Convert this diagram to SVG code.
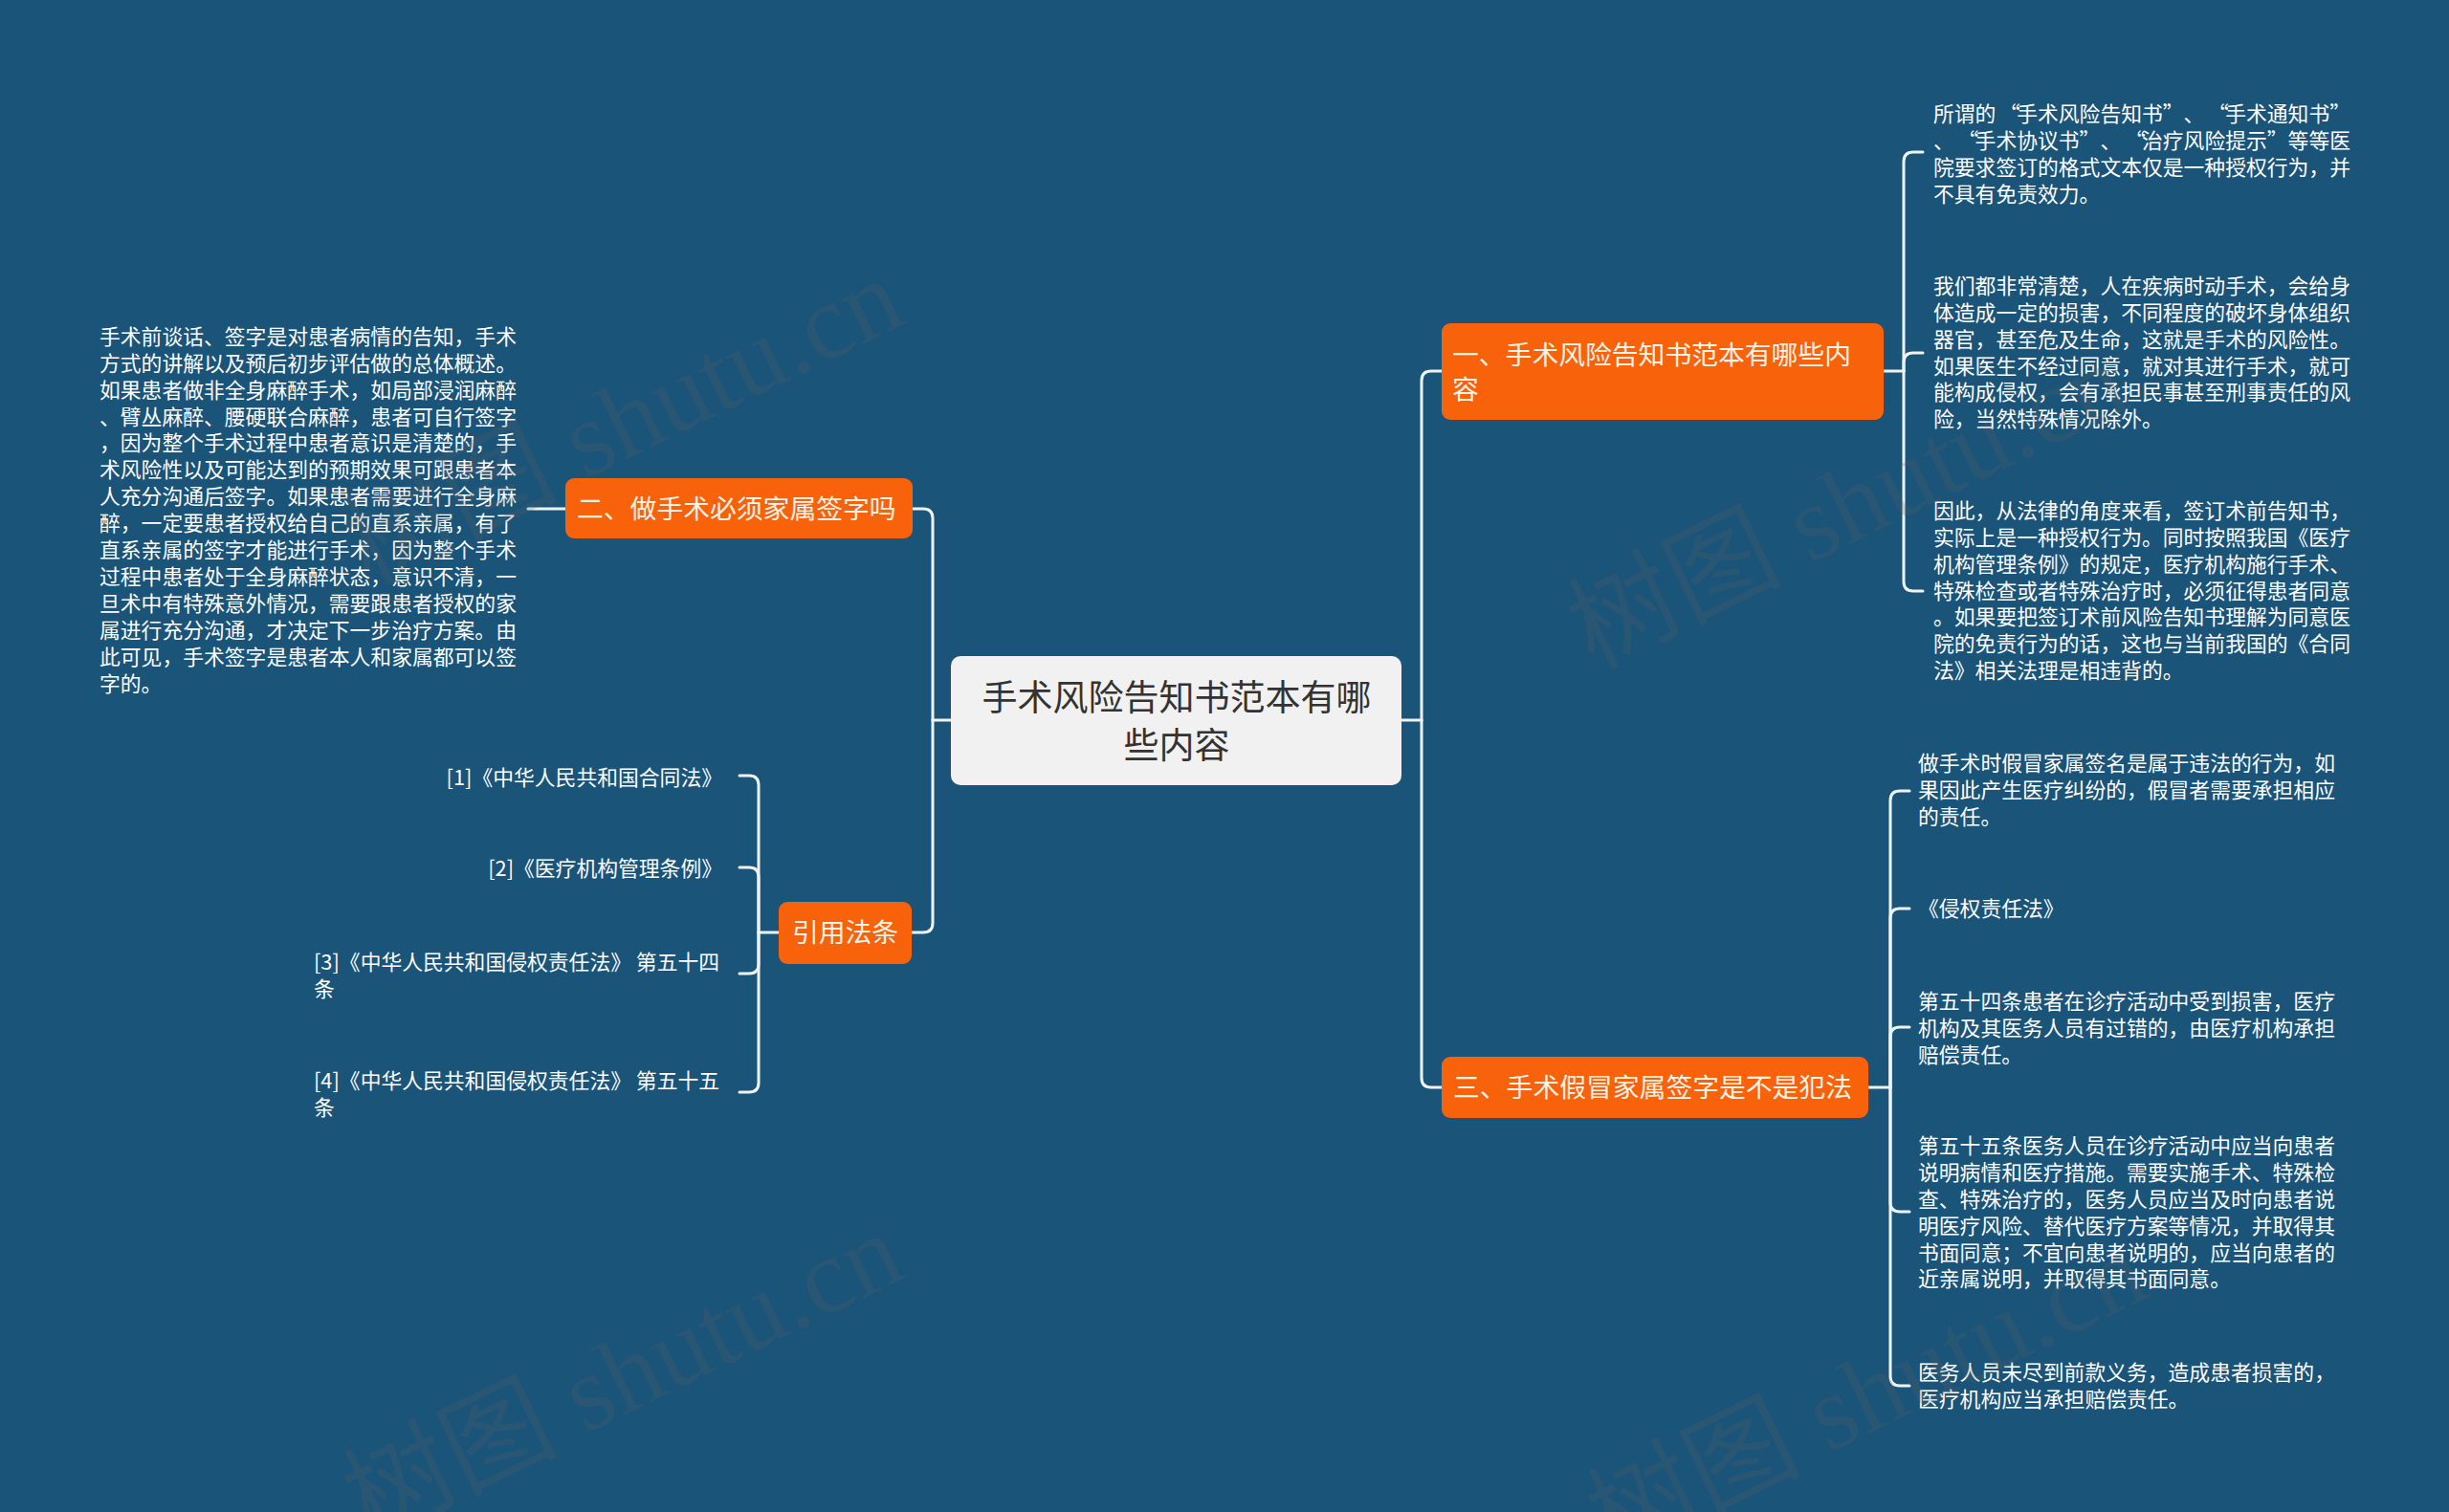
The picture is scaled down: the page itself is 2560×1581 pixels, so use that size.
<svg xmlns="http://www.w3.org/2000/svg" width="2560" height="1581" viewBox="0 0 2560 1581">
<style>
.bg{fill:#1a5479}
.conn{fill:none;stroke:#eef3f6;stroke-width:3;stroke-linecap:round;stroke-linejoin:round}
.root{fill:#f1f1f1}
.roott{font-family:"Noto Sans CJK SC","Noto Sans",sans-serif;font-size:37px;fill:#333333}
.br{fill:#f7620a}
.brt{font-family:"Noto Sans CJK SC","Noto Sans",sans-serif;font-size:27.8px;fill:#fdf3e8}
.leaf{font-family:"Noto Sans CJK SC","Noto Sans",sans-serif;font-size:21.8px;fill:#ffffff}
.wm{font-family:"Liberation Serif","Noto Sans CJK SC",serif;font-size:112px;fill:#5e5e5e;fill-opacity:0.22}
</style>
<rect class="bg" x="0" y="0" width="2560" height="1581"/>

<g id="connectors">
  <path class="conn" d="M994,753 H975"/>
  <path class="conn" d="M975,753 V542 Q975,532 965,532 H954"/>
  <path class="conn" d="M975,753 V965 Q975,975 965,975 H953"/>
  <path class="conn" d="M1465,753 H1486"/>
  <path class="conn" d="M1486,753 V398 Q1486,388 1496,388 H1507"/>
  <path class="conn" d="M1486,753 V1127 Q1486,1137 1496,1137 H1507"/>
  <path class="conn" d="M591,532 H552"/>
  <path class="conn" d="M1969,388 H1990"/>
  <path class="conn" d="M1990,388 V169 Q1990,159 2000,159 H2010"/>
  <path class="conn" d="M1990,388 V379 Q1990,369 2000,369 H2010"/>
  <path class="conn" d="M1990,388 V608 Q1990,618 2000,618 H2010"/>
  <path class="conn" d="M1953,1137 H1976"/>
  <path class="conn" d="M1976,1137 V837 Q1976,827 1986,827 H1996"/>
  <path class="conn" d="M1976,1137 V960 Q1976,950 1986,950 H1996"/>
  <path class="conn" d="M1976,1137 V1084 Q1976,1074 1986,1074 H1996"/>
  <path class="conn" d="M1976,1137 V1257 Q1976,1267 1986,1267 H1996"/>
  <path class="conn" d="M1976,1137 V1439 Q1976,1449 1986,1449 H1996"/>
  <path class="conn" d="M814,975 H793"/>
  <path class="conn" d="M793,975 V821 Q793,811 783,811 H773"/>
  <path class="conn" d="M793,975 V917 Q793,907 783,907 H773"/>
  <path class="conn" d="M793,975 V1008 Q793,1018 783,1018 H773"/>
  <path class="conn" d="M793,975 V1132 Q793,1142 783,1142 H773"/>
</g>

<g id="root">
  <rect class="root" x="994" y="686" width="471" height="135" rx="10"/>
  <text class="roott" text-anchor="middle"><tspan x="1230" y="743">手术风险告知书范本有哪</tspan><tspan x="1230" y="793">些内容</tspan></text>
</g>

<g id="b1">
  <rect class="br" x="1507" y="338" width="462" height="101" rx="9"/>
  <text class="brt"><tspan x="1518" y="381">一、手术风险告知书范本有哪些内</tspan><tspan x="1518" y="417">容</tspan></text>
</g>
<g id="b2">
  <rect class="br" x="591" y="500" width="363" height="63" rx="9"/>
  <text class="brt" x="603" y="542">二、做手术必须家属签字吗</text>
</g>
<g id="b3">
  <rect class="br" x="1507" y="1105" width="446" height="64" rx="9"/>
  <text class="brt" x="1519" y="1147">三、手术假冒家属签字是不是犯法</text>
</g>
<g id="b4">
  <rect class="br" x="814" y="943" width="139" height="65" rx="9"/>
  <text class="brt" x="883.5" y="985" text-anchor="middle">引用法条</text>
</g>

<g id="leaf-b2">
  <text class="leaf">
    <tspan x="104" y="360">手术前谈话、签字是对患者病情的告知，手术</tspan>
    <tspan x="104" y="388">方式的讲解以及预后初步评估做的总体概述。</tspan>
    <tspan x="104" y="416">如果患者做非全身麻醉手术，如局部浸润麻醉</tspan>
    <tspan x="104" y="444">、臂丛麻醉、腰硬联合麻醉，患者可自行签字</tspan>
    <tspan x="104" y="471">，因为整个手术过程中患者意识是清楚的，手</tspan>
    <tspan x="104" y="499">术风险性以及可能达到的预期效果可跟患者本</tspan>
    <tspan x="104" y="527">人充分沟通后签字。如果患者需要进行全身麻</tspan>
    <tspan x="104" y="555">醉，一定要患者授权给自己的直系亲属，有了</tspan>
    <tspan x="104" y="583">直系亲属的签字才能进行手术，因为整个手术</tspan>
    <tspan x="104" y="611">过程中患者处于全身麻醉状态，意识不清，一</tspan>
    <tspan x="104" y="639">旦术中有特殊意外情况，需要跟患者授权的家</tspan>
    <tspan x="104" y="667">属进行充分沟通，才决定下一步治疗方案。由</tspan>
    <tspan x="104" y="695">此可见，手术签字是患者本人和家属都可以签</tspan>
    <tspan x="104" y="723">字的。</tspan>
  </text>
</g>

<g id="leaf-b1-1">
  <text class="leaf">
    <tspan x="2021" y="127">所谓的</tspan><tspan x="2090" y="127">“</tspan><tspan x="2108.2" y="127">手术风险告知书</tspan><tspan x="2260.8" y="127">”</tspan><tspan x="2282.6" y="127">、</tspan><tspan x="2308" y="127">“</tspan><tspan x="2326.2" y="127">手术通知书</tspan><tspan x="2435.2" y="127">”</tspan>
    <tspan x="2021" y="155">、</tspan><tspan x="2046.5" y="155">“</tspan><tspan x="2064.6" y="155">手术协议书</tspan><tspan x="2173.6" y="155">”</tspan><tspan x="2195.4" y="155">、</tspan><tspan x="2221" y="155">“</tspan><tspan x="2239" y="155">治疗风险提示</tspan><tspan x="2369.8" y="155">”</tspan><tspan x="2391.6" y="155">等等医</tspan>
    <tspan x="2021" y="183">院要求签订的格式文本仅是一种授权行为，并</tspan>
    <tspan x="2021" y="211">不具有免责效力。</tspan>
  </text>
</g>
<g id="leaf-b1-2">
  <text class="leaf">
    <tspan x="2021" y="307">我们都非常清楚，人在疾病时动手术，会给身</tspan>
    <tspan x="2021" y="335">体造成一定的损害，不同程度的破坏身体组织</tspan>
    <tspan x="2021" y="363">器官，甚至危及生命，这就是手术的风险性。</tspan>
    <tspan x="2021" y="391">如果医生不经过同意，就对其进行手术，就可</tspan>
    <tspan x="2021" y="418">能构成侵权，会有承担民事甚至刑事责任的风</tspan>
    <tspan x="2021" y="446">险，当然特殊情况除外。</tspan>
  </text>
</g>
<g id="leaf-b1-3">
  <text class="leaf">
    <tspan x="2021" y="542">因此，从法律的角度来看，签订术前告知书，</tspan>
    <tspan x="2021" y="570">实际上是一种授权行为。同时按照我国《医疗</tspan>
    <tspan x="2021" y="598">机构管理条例》的规定，医疗机构施行手术、</tspan>
    <tspan x="2021" y="626">特殊检查或者特殊治疗时，必须征得患者同意</tspan>
    <tspan x="2021" y="653">。如果要把签订术前风险告知书理解为同意医</tspan>
    <tspan x="2021" y="681">院的免责行为的话，这也与当前我国的《合同</tspan>
    <tspan x="2021" y="709">法》相关法理是相违背的。</tspan>
  </text>
</g>

<g id="leaf-b3-1">
  <text class="leaf">
    <tspan x="2005" y="806">做手术时假冒家属签名是属于违法的行为，如</tspan>
    <tspan x="2005" y="834">果因此产生医疗纠纷的，假冒者需要承担相应</tspan>
    <tspan x="2005" y="862">的责任。</tspan>
  </text>
</g>
<g id="leaf-b3-2">
  <text class="leaf" x="2005" y="958">《侵权责任法》</text>
</g>
<g id="leaf-b3-3">
  <text class="leaf">
    <tspan x="2005" y="1055">第五十四条患者在诊疗活动中受到损害，医疗</tspan>
    <tspan x="2005" y="1083">机构及其医务人员有过错的，由医疗机构承担</tspan>
    <tspan x="2005" y="1111">赔偿责任。</tspan>
  </text>
</g>
<g id="leaf-b3-4">
  <text class="leaf">
    <tspan x="2005" y="1206">第五十五条医务人员在诊疗活动中应当向患者</tspan>
    <tspan x="2005" y="1234">说明病情和医疗措施。需要实施手术、特殊检</tspan>
    <tspan x="2005" y="1262">查、特殊治疗的，医务人员应当及时向患者说</tspan>
    <tspan x="2005" y="1290">明医疗风险、替代医疗方案等情况，并取得其</tspan>
    <tspan x="2005" y="1318">书面同意；不宜向患者说明的，应当向患者的</tspan>
    <tspan x="2005" y="1345">近亲属说明，并取得其书面同意。</tspan>
  </text>
</g>
<g id="leaf-b3-5">
  <text class="leaf">
    <tspan x="2005" y="1443">医务人员未尽到前款义务，造成患者损害的，</tspan>
    <tspan x="2005" y="1471">医疗机构应当承担赔偿责任。</tspan>
  </text>
</g>

<g id="leaf-b4-1">
  <text class="leaf" x="755" y="821" text-anchor="end">[1]《中华人民共和国合同法》</text>
</g>
<g id="leaf-b4-2">
  <text class="leaf" x="755" y="916" text-anchor="end">[2]《医疗机构管理条例》</text>
</g>
<g id="leaf-b4-3">
  <text class="leaf"><tspan x="328" y="1014">[3]《中华人民共和国侵权责任法》 第五十四</tspan><tspan x="328" y="1042">条</tspan></text>
</g>
<g id="leaf-b4-4">
  <text class="leaf"><tspan x="328" y="1138">[4]《中华人民共和国侵权责任法》 第五十五</tspan><tspan x="328" y="1166">条</tspan></text>
</g>

<g id="watermark">
  <text class="wm" transform="translate(385,612) rotate(-26)">树图 shutu.cn</text>
  <text class="wm" transform="translate(385,1610) rotate(-26)">树图 shutu.cn</text>
  <text class="wm" transform="translate(1665,700) rotate(-26)">树图 shutu.cn</text>
  <text class="wm" transform="translate(1685,1630) rotate(-26)">树图 shutu.cn</text>
</g>
</svg>
